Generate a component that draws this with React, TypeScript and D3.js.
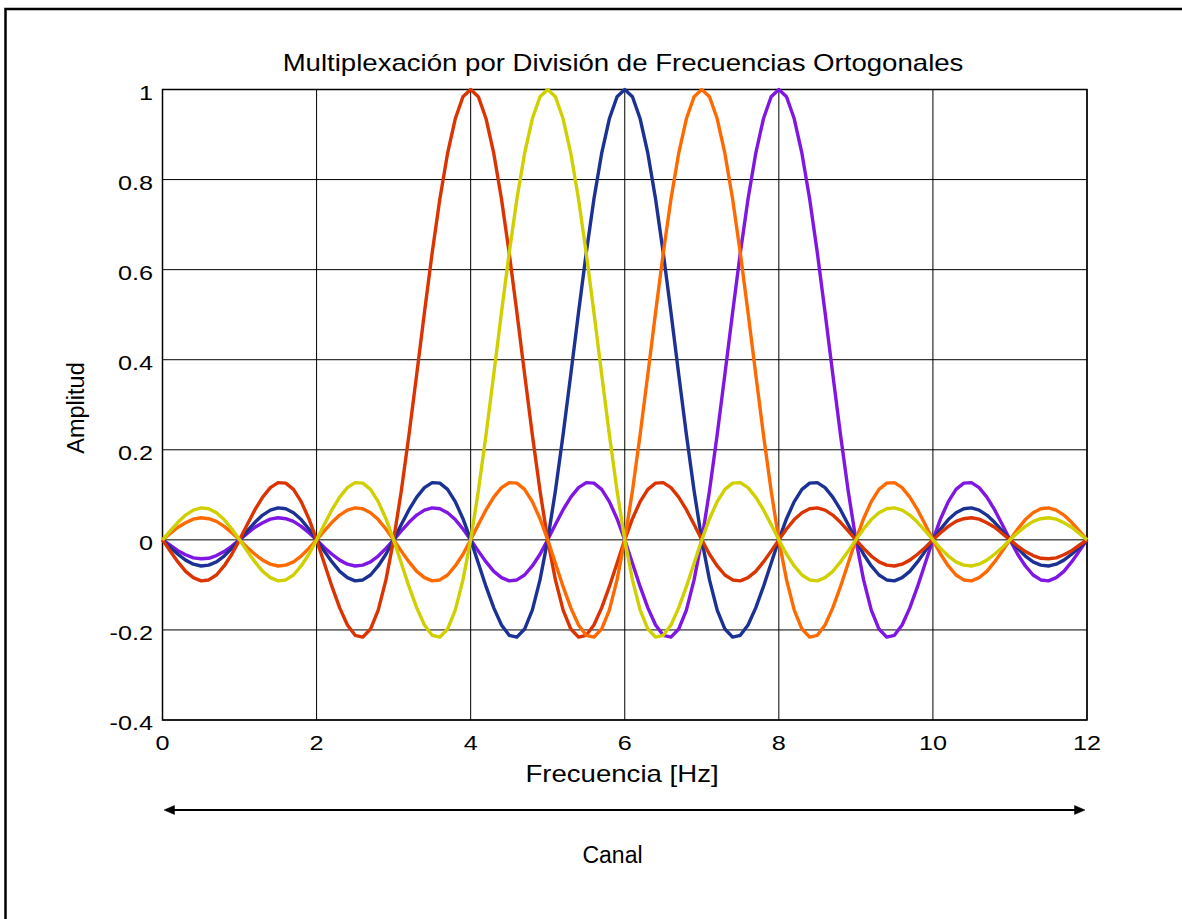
import React from 'react';
import * as d3 from 'd3';

// Frequency samples every 0.1 Hz from 0 to 12 Hz
const sampleStep = 0.1;

// Amplitude of each subcarrier, one row per 1 Hz (10 samples), last value at 12 Hz
const red4 = [
  0, -0.025, -0.049, -0.070, -0.084, -0.091, -0.089, -0.078, -0.058, -0.032,
  0, 0.034, 0.067, 0.095, 0.116, 0.127, 0.126, 0.112, 0.085, 0.047,
  0, -0.052, -0.104, -0.151, -0.189, -0.212, -0.216, -0.198, -0.156, -0.089,
  0, 0.109, 0.234, 0.368, 0.505, 0.637, 0.757, 0.858, 0.935, 0.984,
  1, 0.984, 0.935, 0.858, 0.757, 0.637, 0.505, 0.368, 0.234, 0.109,
  0, -0.089, -0.156, -0.198, -0.216, -0.212, -0.189, -0.151, -0.104, -0.052,
  0, 0.047, 0.085, 0.112, 0.126, 0.127, 0.116, 0.095, 0.067, 0.034,
  0, -0.032, -0.058, -0.078, -0.089, -0.091, -0.084, -0.070, -0.049, -0.025,
  0, 0.024, 0.045, 0.060, 0.069, 0.071, 0.066, 0.055, 0.039, 0.020,
  0, -0.019, -0.036, -0.049, -0.056, -0.058, -0.054, -0.045, -0.032, -0.017,
  0, 0.016, 0.030, 0.041, 0.047, 0.049, 0.046, 0.038, 0.028, 0.014,
  0, -0.014, -0.026, -0.035, -0.041, -0.042, -0.040, -0.033, -0.024, -0.012,
  0
];

const yellow5 = [
  0, 0.020, 0.039, 0.055, 0.066, 0.071, 0.069, 0.060, 0.045, 0.024,
  0, -0.025, -0.049, -0.070, -0.084, -0.091, -0.089, -0.078, -0.058, -0.032,
  0, 0.034, 0.067, 0.095, 0.116, 0.127, 0.126, 0.112, 0.085, 0.047,
  0, -0.052, -0.104, -0.151, -0.189, -0.212, -0.216, -0.198, -0.156, -0.089,
  0, 0.109, 0.234, 0.368, 0.505, 0.637, 0.757, 0.858, 0.935, 0.984,
  1, 0.984, 0.935, 0.858, 0.757, 0.637, 0.505, 0.368, 0.234, 0.109,
  0, -0.089, -0.156, -0.198, -0.216, -0.212, -0.189, -0.151, -0.104, -0.052,
  0, 0.047, 0.085, 0.112, 0.126, 0.127, 0.116, 0.095, 0.067, 0.034,
  0, -0.032, -0.058, -0.078, -0.089, -0.091, -0.084, -0.070, -0.049, -0.025,
  0, 0.024, 0.045, 0.060, 0.069, 0.071, 0.066, 0.055, 0.039, 0.020,
  0, -0.019, -0.036, -0.049, -0.056, -0.058, -0.054, -0.045, -0.032, -0.017,
  0, 0.016, 0.030, 0.041, 0.047, 0.049, 0.046, 0.038, 0.028, 0.014,
  0
];

const blue6 = [
  0, -0.017, -0.032, -0.045, -0.054, -0.058, -0.056, -0.049, -0.036, -0.019,
  0, 0.020, 0.039, 0.055, 0.066, 0.071, 0.069, 0.060, 0.045, 0.024,
  0, -0.025, -0.049, -0.070, -0.084, -0.091, -0.089, -0.078, -0.058, -0.032,
  0, 0.034, 0.067, 0.095, 0.116, 0.127, 0.126, 0.112, 0.085, 0.047,
  0, -0.052, -0.104, -0.151, -0.189, -0.212, -0.216, -0.198, -0.156, -0.089,
  0, 0.109, 0.234, 0.368, 0.505, 0.637, 0.757, 0.858, 0.935, 0.984,
  1, 0.984, 0.935, 0.858, 0.757, 0.637, 0.505, 0.368, 0.234, 0.109,
  0, -0.089, -0.156, -0.198, -0.216, -0.212, -0.189, -0.151, -0.104, -0.052,
  0, 0.047, 0.085, 0.112, 0.126, 0.127, 0.116, 0.095, 0.067, 0.034,
  0, -0.032, -0.058, -0.078, -0.089, -0.091, -0.084, -0.070, -0.049, -0.025,
  0, 0.024, 0.045, 0.060, 0.069, 0.071, 0.066, 0.055, 0.039, 0.020,
  0, -0.019, -0.036, -0.049, -0.056, -0.058, -0.054, -0.045, -0.032, -0.017,
  0
];

const orange7 = [
  0, 0.014, 0.028, 0.038, 0.046, 0.049, 0.047, 0.041, 0.030, 0.016,
  0, -0.017, -0.032, -0.045, -0.054, -0.058, -0.056, -0.049, -0.036, -0.019,
  0, 0.020, 0.039, 0.055, 0.066, 0.071, 0.069, 0.060, 0.045, 0.024,
  0, -0.025, -0.049, -0.070, -0.084, -0.091, -0.089, -0.078, -0.058, -0.032,
  0, 0.034, 0.067, 0.095, 0.116, 0.127, 0.126, 0.112, 0.085, 0.047,
  0, -0.052, -0.104, -0.151, -0.189, -0.212, -0.216, -0.198, -0.156, -0.089,
  0, 0.109, 0.234, 0.368, 0.505, 0.637, 0.757, 0.858, 0.935, 0.984,
  1, 0.984, 0.935, 0.858, 0.757, 0.637, 0.505, 0.368, 0.234, 0.109,
  0, -0.089, -0.156, -0.198, -0.216, -0.212, -0.189, -0.151, -0.104, -0.052,
  0, 0.047, 0.085, 0.112, 0.126, 0.127, 0.116, 0.095, 0.067, 0.034,
  0, -0.032, -0.058, -0.078, -0.089, -0.091, -0.084, -0.070, -0.049, -0.025,
  0, 0.024, 0.045, 0.060, 0.069, 0.071, 0.066, 0.055, 0.039, 0.020,
  0
];

const purple8 = [
  0, -0.012, -0.024, -0.033, -0.040, -0.042, -0.041, -0.035, -0.026, -0.014,
  0, 0.014, 0.028, 0.038, 0.046, 0.049, 0.047, 0.041, 0.030, 0.016,
  0, -0.017, -0.032, -0.045, -0.054, -0.058, -0.056, -0.049, -0.036, -0.019,
  0, 0.020, 0.039, 0.055, 0.066, 0.071, 0.069, 0.060, 0.045, 0.024,
  0, -0.025, -0.049, -0.070, -0.084, -0.091, -0.089, -0.078, -0.058, -0.032,
  0, 0.034, 0.067, 0.095, 0.116, 0.127, 0.126, 0.112, 0.085, 0.047,
  0, -0.052, -0.104, -0.151, -0.189, -0.212, -0.216, -0.198, -0.156, -0.089,
  0, 0.109, 0.234, 0.368, 0.505, 0.637, 0.757, 0.858, 0.935, 0.984,
  1, 0.984, 0.935, 0.858, 0.757, 0.637, 0.505, 0.368, 0.234, 0.109,
  0, -0.089, -0.156, -0.198, -0.216, -0.212, -0.189, -0.151, -0.104, -0.052,
  0, 0.047, 0.085, 0.112, 0.126, 0.127, 0.116, 0.095, 0.067, 0.034,
  0, -0.032, -0.058, -0.078, -0.089, -0.091, -0.084, -0.070, -0.049, -0.025,
  0
];

// drawing order: bottom to top
const seriesList = [
  { name: 'f8', color: '#7f16e4', values: purple8 },
  { name: 'f6', color: '#1c3194', values: blue6 },
  { name: 'f4', color: '#db3400', values: red4 },
  { name: 'f7', color: '#ff6a00', values: orange7 },
  { name: 'f5', color: '#d0d000', values: yellow5 },
];

const xTicks = [0, 2, 4, 6, 8, 10, 12];
const yTicks = [-0.4, -0.2, 0, 0.2, 0.4, 0.6, 0.8, 1];

const titleText = 'Multiplexación por División de Frecuencias Ortogonales';
const xLabel = 'Frecuencia [Hz]';
const yLabel = 'Amplitud';
const bandLabel = 'Canal';

const width = 1182;
const height = 919;
const font = '"Liberation Sans", Arial, sans-serif';
const stretch = 1.2; // the source image is widened horizontally

const App: React.FC = () => {
  const x = d3.scaleLinear().domain([0, 12]).range([162.5, 1087]);
  const y = d3.scaleLinear().domain([-0.4, 1]).range([720, 89.5]);

  const line = d3.line<number>()
    .x((_, i) => x(i * sampleStep))
    .y(d => y(d));

  const fmt = (v: number) => String(+v.toFixed(1));

  return (
    <div style={{ position: 'absolute', left: 0, top: 0 }}>
      <svg width={width} height={height} style={{ display: 'block', background: '#fff' }}>
        {/* outer frame, only left and top edges are inside the picture */}
        <path d={`M5.5,${height} L5.5,9 L${width},9`} fill="none" stroke="#000" strokeWidth={2.5} />

        {/* grid */}
        <g stroke="#000" strokeWidth={1}>
          {xTicks.map(t => (
            <line key={'gx' + t} x1={x(t)} x2={x(t)} y1={y(-0.4)} y2={y(1)} />
          ))}
          {yTicks.map(t => (
            <line key={'gy' + t} x1={x(0)} x2={x(12)} y1={y(t)} y2={y(t)} />
          ))}
        </g>
        <rect x={x(0)} y={y(1)} width={x(12) - x(0)} height={y(-0.4) - y(1)}
          fill="none" stroke="#000" strokeWidth={1.5} />

        {/* curves */}
        <g fill="none" strokeWidth={3.4} strokeLinejoin="round">
          {seriesList.map(s => (
            <path key={s.name} d={line(s.values) || ''} stroke={s.color} />
          ))}
        </g>

        {/* tick labels */}
        <g fontFamily={font} fontSize={21} fill="#000">
          {xTicks.map(t => (
            <text key={'lx' + t} transform={`translate(${x(t)},750) scale(${stretch},1)`} textAnchor="middle">
              {fmt(t)}
            </text>
          ))}
          {yTicks.map(t => (
            <text key={'ly' + t} transform={`translate(153,${y(t) + 10}) scale(${stretch},1)`} textAnchor="end">
              {fmt(t)}
            </text>
          ))}
        </g>

        {/* titles */}
        <g fontFamily={font} fill="#000">
          <text transform={`translate(623,71) scale(${stretch},1)`} textAnchor="middle" fontSize={23}>
            {titleText}
          </text>
          <text transform={`translate(622,782) scale(${stretch},1)`} textAnchor="middle" fontSize={23}>
            {xLabel}
          </text>
          <text transform="translate(84,408) rotate(-90)" textAnchor="middle" fontSize={23.5}>
            {yLabel}
          </text>
          <text x={612.5} y={863} textAnchor="middle" fontSize={23}>
            {bandLabel}
          </text>
        </g>

        {/* channel arrow */}
        <g fill="#000" stroke="#000">
          <line x1={x(0) + 10} x2={x(12) - 10} y1={810} y2={810} strokeWidth={2} />
          <path d={`M${x(0) + 1.5},810 L${x(0) + 12},805.5 L${x(0) + 12},814.5 Z`} strokeWidth={0.5} />
          <path d={`M${x(12) - 2},810 L${x(12) - 12.5},805.5 L${x(12) - 12.5},814.5 Z`} strokeWidth={0.5} />
        </g>
      </svg>
    </div>
  );
};

export default App;
